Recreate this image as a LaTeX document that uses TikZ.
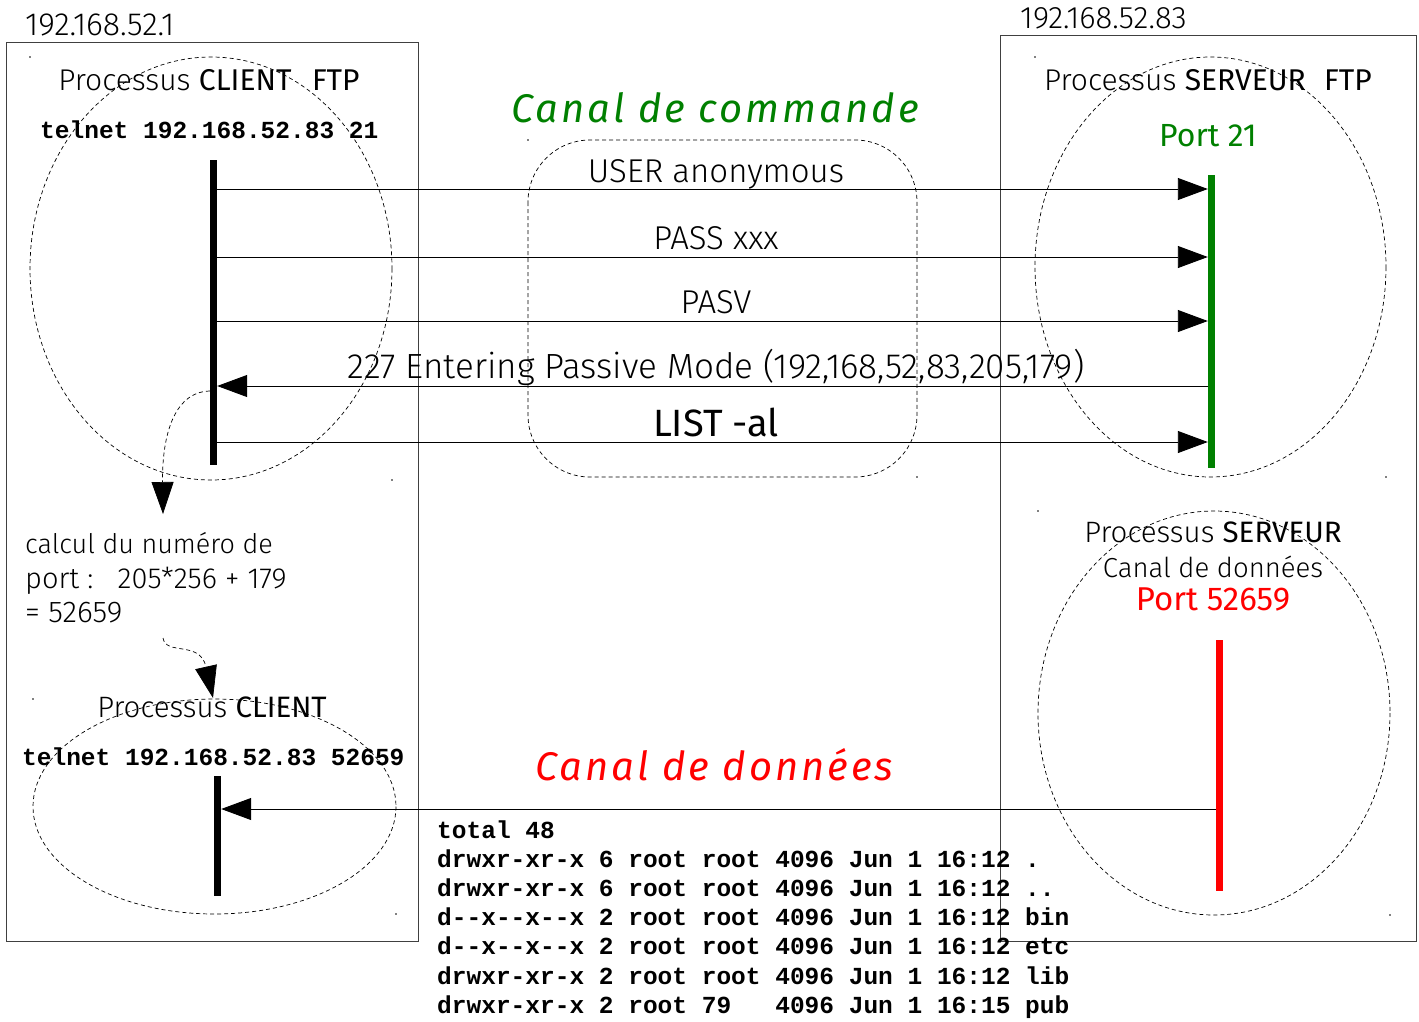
\documentclass[tikz,border=0pt]{standalone}
\usepackage{fontspec}
\setmainfont{Fira Sans}[UprightFont=* Light, BoldFont=*, ItalicFont=* Italic, BoldItalicFont=* Italic]
\newfontfamily\monofont{Liberation Mono}[UprightFont=* Bold]
\usetikzlibrary{arrows.meta}
\definecolor{cmdgreen}{RGB}{0,128,0}
\newcommand{\fsz}[1]{\fontsize{#1}{1.2\dimexpr#1pt\relax}\selectfont}
\begin{document}
\begin{tikzpicture}[x=1pt,y=-1pt,
  hostbox/.style={draw=black!75,line width=1pt},
  zone/.style={draw,line width=0.7pt,dash pattern=on 4pt off 3pt},
  bar/.style={draw=none,inner sep=0pt,minimum width=7pt},
  msg/.style={line width=0.9pt,-{Triangle[length=30pt,width=22pt]}},
  flow/.style={line width=0.7pt,dash pattern=on 4pt off 3pt,-{Triangle[length=32pt,width=22pt]}},
  lbl/.style={inner sep=0pt,font=\fsz{30}},
  msglbl/.style={inner sep=0pt,anchor=base,font=\fsz{33}},
  code/.style={inner sep=0pt,anchor=base west,font=\monofont\fsz{24.5}},
  title/.style={inner sep=0pt,anchor=base west,font=\itshape\fsz{40}\addfontfeature{LetterSpace=7.5}},
  corner/.style={fill,circle,inner sep=0pt,minimum size=1.8pt}
]
\useasboundingbox (0,0) rectangle (1419,1021);

% host boxes
\draw[hostbox] (6,42) rectangle (418,941);
\draw[hostbox] (1000,35) rectangle (1416,941);
\node[lbl,anchor=base west,font=\fsz{32}] (ipc) at (25,35) {192.168.52.1};
\node[lbl,anchor=base west,font=\fsz{31}] (ips) at (1020,28) {192.168.52.83};

% dashed zones
\draw[zone] (211,268.5) ellipse [x radius=181, y radius=211.5];
\draw[zone] (1210.5,267) ellipse [x radius=175.5, y radius=210];
\draw[zone] (214.5,806.5) ellipse [x radius=181.5, y radius=107.5];
\draw[zone] (1214,713) ellipse [x radius=176, y radius=202];
\draw[zone,rounded corners=62pt] (528,140) rectangle (917,477);

% tiny corner marks
\foreach \p [count=\i] in {(30,57),(392,480),(1035,57),(1386,477),(33,699),(396,914),(1038,511),(1390,915),(528,140),(917,477)}
  \node[corner] (m\i) at \p {};

% client FTP process
\node[lbl,anchor=base] (cft) at (209,90) {Processus \textbf{CLIENT}\hspace{12pt} \textbf{FTP}};
\node[code] (ctel) at (40,138) {telnet 192.168.52.83 21};
\node[bar,fill=black,minimum height=305pt] (cbar) at (213.5,312.5) {};

% server FTP process
\node[lbl,anchor=base] (sft) at (1208,90) {Processus \textbf{SERVEUR}\hspace{10pt} \textbf{FTP}};
\node[lbl,anchor=base,text=cmdgreen,font=\bfseries\fsz{32}] (p21) at (1208,146) {Port 21};
\node[bar,fill=cmdgreen,minimum height=293pt] (sbar) at (1211.5,321.5) {};

% command channel
\node[title,text=cmdgreen] (tcmd) at (511,122) {Canal de commande};
\node[msglbl] (l1) at (716,182) {USER anonymous};
\node[msglbl] (l2) at (716,249) {PASS xxx};
\node[msglbl] (l3) at (716,313) {PASV};
\node[msglbl,font=\fsz{35}] (l4) at (716,378) {227 Entering Passive Mode (192,168,52,83,205,179)};
\node[msglbl,font=\bfseries\fsz{38}] (l5) at (716,436) {LIST -al};

\draw[msg] (cbar.east |- 0,189) -- (sbar.west |- 0,189);
\draw[msg] (cbar.east |- 0,257) -- (sbar.west |- 0,257);
\draw[msg] (cbar.east |- 0,321) -- (sbar.west |- 0,321);
\draw[msg] (sbar.west |- 0,386) -- (cbar.east |- 0,386);
\draw[msg] (cbar.east |- 0,442) -- (sbar.west |- 0,442);

% port computation
\node[lbl,anchor=base west,font=\fsz{27}] (calc1) at (25,553) {calcul du numéro de};
\node[lbl,anchor=base west,font=\fsz{29}] (calc2) at (25,588) {port :\ \ \ 205*256 + 179};
\node[lbl,anchor=base west,font=\fsz{30}] (calc3) at (25,622) {= 52659};
\coordinate (calctop) at (163,514);
\coordinate (calcbot) at (163,638);
\draw[flow] (cbar.west |- 0,391) .. controls (172,392) and (162,440) .. (calctop);

% client data process
\node[lbl,anchor=base,font=\fsz{29.5}] (cdp) at (212,717) {Processus \textbf{CLIENT}};
\coordinate (cdptop) at (213,698);
\draw[flow] (calcbot) .. controls (166,656) and (200,640) .. (cdptop);
\node[code] (ctel2) at (22,765) {telnet 192.168.52.83 52659};
\node[bar,fill=black,minimum height=120pt] (cbar2) at (217.5,836) {};

% server data process
\node[lbl,anchor=base,font=\fsz{29.5}] (sdp1) at (1213,542) {Processus \textbf{SERVEUR}};
\node[lbl,anchor=base,font=\fsz{27.5}] (sdp2) at (1213,577) {Canal de données};
\node[lbl,anchor=base,text=red,font=\bfseries\fsz{33}] (p52) at (1213,610) {Port 52659};
\node[bar,fill=red,minimum height=251pt] (rbar) at (1219.5,765.5) {};

% data channel
\node[title,text=red] (tdat) at (535,780) {Canal de données};
\draw[msg] (rbar.west |- 0,809) -- (cbar2.east |- 0,809);

% listing
\foreach \t [count=\i from 0] in {total 48,
  drwxr-xr-x 6 root root 4096 Jun 1 16:12 .,
  drwxr-xr-x 6 root root 4096 Jun 1 16:12 ..,
  d--x--x--x 2 root root 4096 Jun 1 16:12 bin,
  d--x--x--x 2 root root 4096 Jun 1 16:12 etc,
  drwxr-xr-x 2 root root 4096 Jun 1 16:12 lib,
  drwxr-xr-x 2 root 79\ \ \ 4096 Jun 1 16:15 pub}
  \node[code] (ls\i) at (437,838+29.2*\i) {\t};
\end{tikzpicture}
\end{document}
